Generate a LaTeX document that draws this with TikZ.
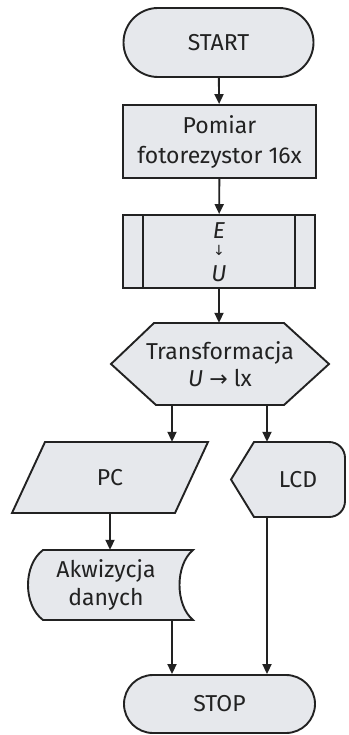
\documentclass[tikz,border=0pt]{standalone}
\usepackage{fontspec}
\setmainfont{Fira Sans}
\newfontfamily\arrowfont{DejaVu Sans}
\usetikzlibrary{shapes.misc,arrows.meta}
\definecolor{boxfill}{HTML}{E6E8EC}
\definecolor{ink}{HTML}{222222}
\tikzset{
  shp/.style={draw=ink, fill=boxfill, line width=1.9pt},
  arr/.style={draw=ink, line width=1.9pt, -{Triangle[length=10pt,width=9pt]}},
  lbl/.style={font=\fontsize{23}{30}\selectfont, text=ink, align=center, inner sep=0pt},
  term/.style={shp, rounded rectangle, minimum width=190pt, inner sep=0pt},
  proc/.style={shp, rectangle, minimum width=193pt, minimum height=73pt, inner sep=0pt},
  hid/.style={draw=none, fill=none, inner sep=0pt}
}
\begin{document}
\begin{tikzpicture}[x=1pt,y=-1pt]
\useasboundingbox (0,0) rectangle (348,735);
% START
\node[term, lbl, minimum height=69pt] (start) at (218.5,42.5) {START};
% Pomiar
\node[proc, lbl] (pomiar) at (219.5,141.5) {Pomiar\\fotorezystor 16x};
% E -> U (predefined process)
\node[proc, lbl, minimum width=192pt] (eu) at (219,251.5) {};
\draw[draw=ink, line width=1.9pt] ([xshift=21pt]eu.north west) -- ([xshift=21pt]eu.south west);
\draw[draw=ink, line width=1.9pt] ([xshift=-21pt]eu.north east) -- ([xshift=-21pt]eu.south east);
\node[hid, lbl, anchor=base] (etxt) at (219,238.5) {\textit{E}};
\node[hid, text=ink, font=\arrowfont\fontsize{14}{14}\selectfont] (darr) at (219,250) {↓};
\node[hid, lbl, anchor=base] (utxt) at (219,281) {\textit{U}};
% Hexagon
\draw[shp] (111,364) -- (154,323) -- (284,323) -- (329,364) -- (284,405) -- (156,405) -- cycle;
\node[hid, lbl, minimum width=218pt, minimum height=82pt] (hex) at (220,364)
  {Transformacja\\[-3pt]\textit{U} {\arrowfont\fontsize{22}{22}\selectfont →} lx};
% PC (data)
\draw[shp] (12,513) -- (45,442) -- (208,442) -- (175,513) -- cycle;
\node[hid, lbl, minimum width=160pt, minimum height=71pt] (pc) at (110,477.5) {PC};
% LCD (display)
\draw[shp] (231,479.5) -- (254,442) -- (329,442) .. controls (338,442) and (345,449) .. (345,458)
  -- (345,501) .. controls (345,510) and (338,517) .. (329,517) -- (254,517) -- cycle;
\node[hid, lbl, minimum width=110pt, minimum height=75pt] (lcd) at (292,479.5) {};
\node[hid, lbl] (lcdtxt) at (298,479.5) {LCD};
% Akwizycja (stored data)
\draw[shp] (43,550) -- (193,550) .. controls (175,565) and (175,605) .. (193,620)
  -- (43,620) .. controls (23,605) and (23,565) .. (43,550) -- cycle;
\node[hid, lbl, minimum width=150pt, minimum height=70pt] (akw) at (110,585) {};
\node[hid, lbl, font=\fontsize{23}{28}\selectfont] (akwtxt) at (106,585) {Akwizycja\\danych};
% STOP
\node[term, lbl, minimum width=191pt, minimum height=58pt] (stop) at (219.5,704) {STOP};
% connectors
\coordinate (hl) at (172,405);
\coordinate (hr) at (267,405);
\coordinate (al) at (172,620);
\draw[arr] (start) -- (pomiar);
\draw[arr] (pomiar) -- (eu);
\draw[arr] (eu.south) -- (eu.south |- hex.north);
\draw[arr] (hl) -- (hl |- pc.north);
\draw[arr] (hr) -- (hr |- lcd.north);
\draw[arr] (pc.south) -- (pc.south |- akw.north);
\draw[arr] (al) -- (al |- stop.north);
\draw[arr] (hr |- lcd.south) -- (hr |- stop.north);
\end{tikzpicture}
\end{document}
